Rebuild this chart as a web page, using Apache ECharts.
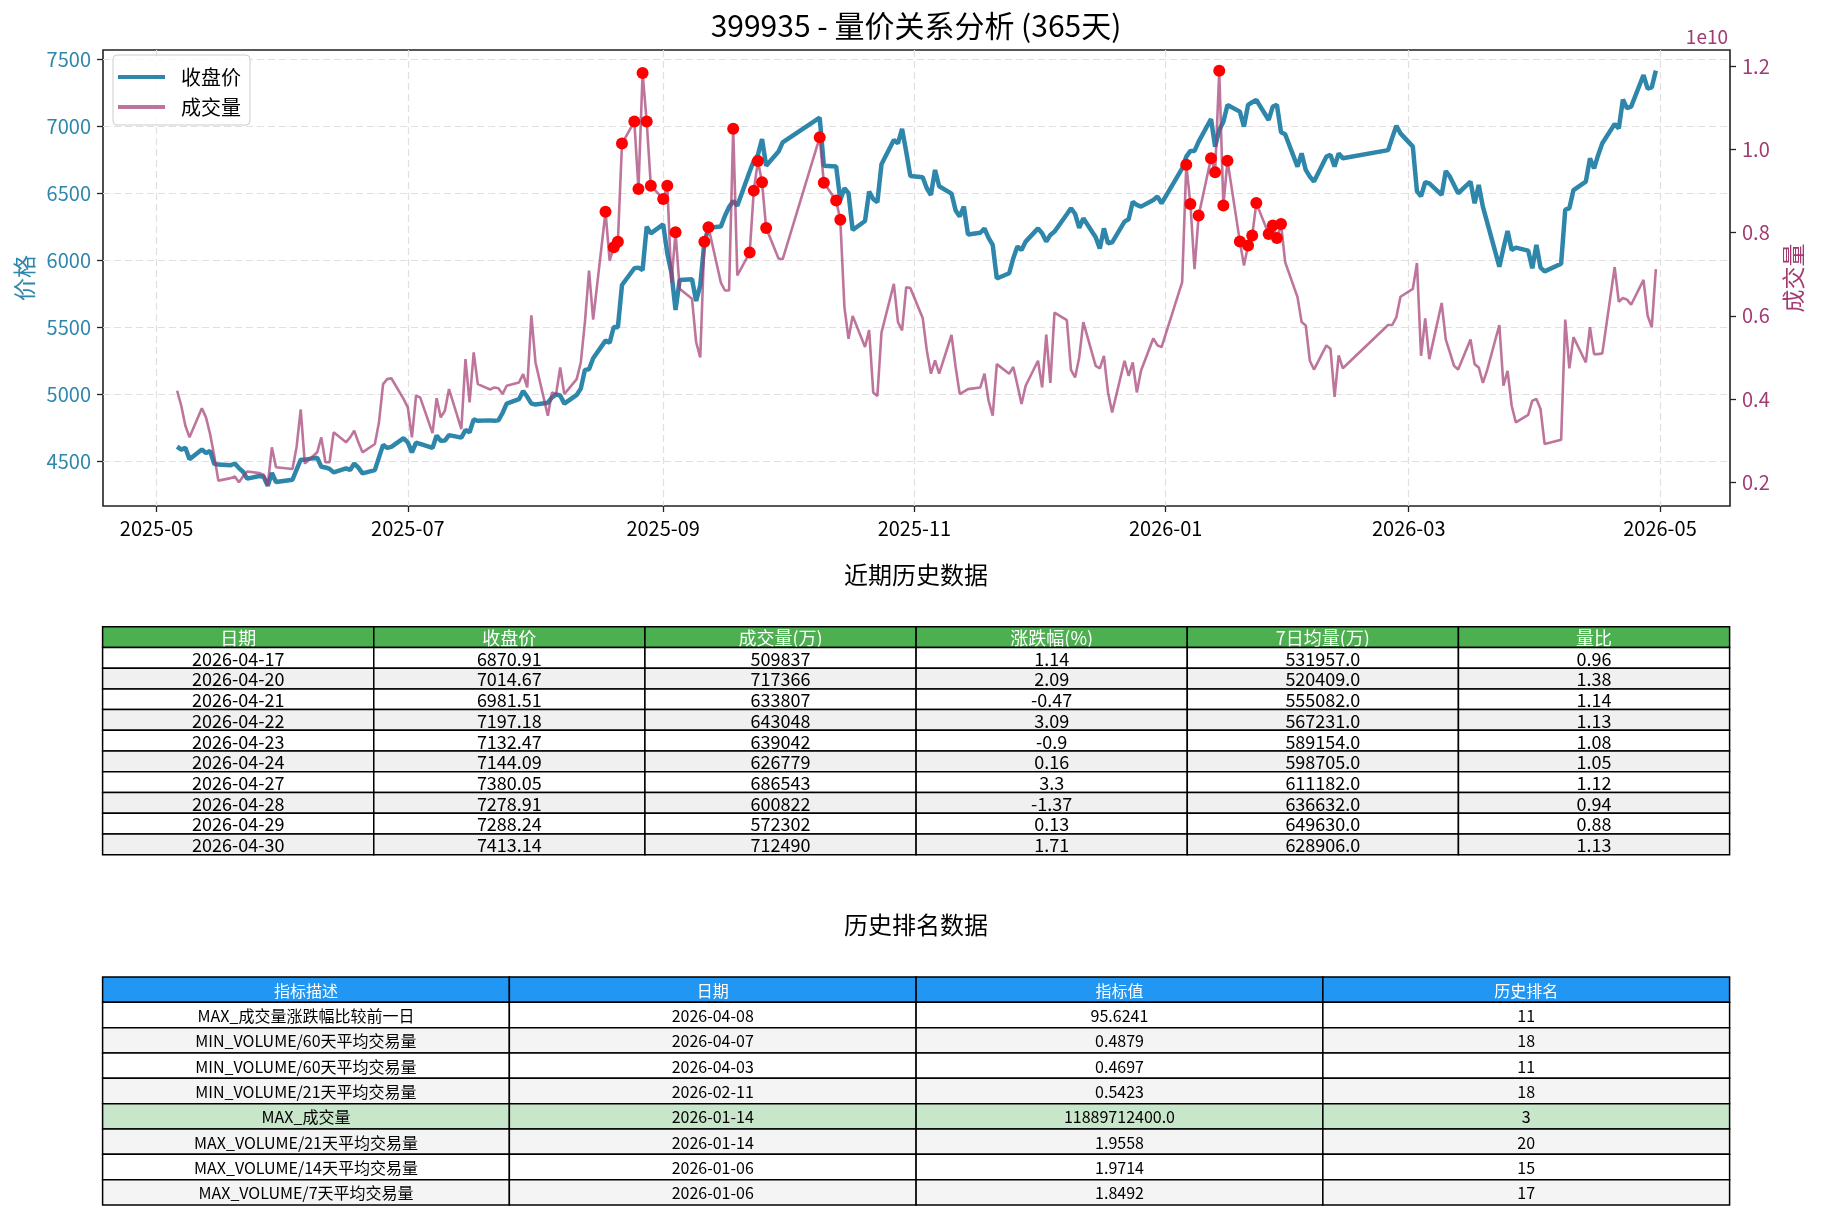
<!DOCTYPE html>
<html>
<head>
<meta charset="utf-8">
<title>399935 量价关系分析</title>
<script src="https://cdn.jsdelivr.net/npm/echarts@6/dist/echarts.min.js"></script>
<style>
  html, body { margin: 0; padding: 0; background: #fff; }
  #chart { width: 1822px; height: 1220px; }
</style>
</head>
<body>
<div id="chart"></div>
<script>
// ---- 行情数据 (交易日) ----
const tradeDates = [
  '2025-05-06','2025-05-07','2025-05-08','2025-05-09','2025-05-12','2025-05-13','2025-05-14','2025-05-15','2025-05-16','2025-05-19','2025-05-20','2025-05-21','2025-05-22','2025-05-23','2025-05-26','2025-05-27','2025-05-28','2025-05-29','2025-05-30',
  '2025-06-03','2025-06-04','2025-06-05','2025-06-06','2025-06-09','2025-06-10','2025-06-11','2025-06-12','2025-06-13','2025-06-16','2025-06-17','2025-06-18','2025-06-19','2025-06-20','2025-06-23','2025-06-24','2025-06-25','2025-06-26','2025-06-27','2025-06-30',
  '2025-07-01','2025-07-02','2025-07-03','2025-07-04','2025-07-07','2025-07-08','2025-07-09','2025-07-10','2025-07-11','2025-07-14','2025-07-15','2025-07-16','2025-07-17','2025-07-18','2025-07-21','2025-07-22','2025-07-23','2025-07-24','2025-07-25','2025-07-28','2025-07-29','2025-07-30','2025-07-31',
  '2025-08-01','2025-08-04','2025-08-05','2025-08-06','2025-08-07','2025-08-08','2025-08-11','2025-08-12','2025-08-13','2025-08-14','2025-08-15','2025-08-18','2025-08-19','2025-08-20','2025-08-21','2025-08-22','2025-08-25','2025-08-26','2025-08-27','2025-08-28','2025-08-29',
  '2025-09-01','2025-09-02','2025-09-03','2025-09-04','2025-09-05','2025-09-08','2025-09-09','2025-09-10','2025-09-11','2025-09-12','2025-09-15','2025-09-16','2025-09-17','2025-09-18','2025-09-19','2025-09-22','2025-09-23','2025-09-24','2025-09-25','2025-09-26','2025-09-29','2025-09-30',
  '2025-10-09','2025-10-10','2025-10-13','2025-10-14','2025-10-15','2025-10-16','2025-10-17','2025-10-20','2025-10-21','2025-10-22','2025-10-23','2025-10-24','2025-10-27','2025-10-28','2025-10-29','2025-10-30','2025-10-31',
  '2025-11-03','2025-11-04','2025-11-05','2025-11-06','2025-11-07','2025-11-10','2025-11-11','2025-11-12','2025-11-13','2025-11-14','2025-11-17','2025-11-18','2025-11-19','2025-11-20','2025-11-21','2025-11-24','2025-11-25','2025-11-26','2025-11-27','2025-11-28',
  '2025-12-01','2025-12-02','2025-12-03','2025-12-04','2025-12-05','2025-12-08','2025-12-09','2025-12-10','2025-12-11','2025-12-12','2025-12-15','2025-12-16','2025-12-17','2025-12-18','2025-12-19','2025-12-22','2025-12-23','2025-12-24','2025-12-25','2025-12-26','2025-12-29','2025-12-30','2025-12-31',
  '2026-01-05','2026-01-06','2026-01-07','2026-01-08','2026-01-09','2026-01-12','2026-01-13','2026-01-14','2026-01-15','2026-01-16','2026-01-19','2026-01-20','2026-01-21','2026-01-22','2026-01-23','2026-01-26','2026-01-27','2026-01-28','2026-01-29','2026-01-30',
  '2026-02-02','2026-02-03','2026-02-04','2026-02-05','2026-02-06','2026-02-09','2026-02-10','2026-02-11','2026-02-12','2026-02-13','2026-02-24','2026-02-25','2026-02-26','2026-02-27',
  '2026-03-02','2026-03-03','2026-03-04','2026-03-05','2026-03-06','2026-03-09','2026-03-10','2026-03-11','2026-03-12','2026-03-13','2026-03-16','2026-03-17','2026-03-18','2026-03-19','2026-03-20','2026-03-23','2026-03-24','2026-03-25','2026-03-26','2026-03-27','2026-03-30','2026-03-31',
  '2026-04-01','2026-04-02','2026-04-03','2026-04-07','2026-04-08','2026-04-09','2026-04-10','2026-04-13','2026-04-14','2026-04-15','2026-04-16','2026-04-17','2026-04-20','2026-04-21','2026-04-22','2026-04-23','2026-04-24','2026-04-27','2026-04-28','2026-04-29','2026-04-30'
]

const closePrice = [
  4607, 4585, 4599, 4513, 4585, 4559, 4575, 4479, 4473, 4468, 4481, 4447, 4420, 4368, 4388, 4382, 4315, 4410, 4343,
  4360, 4435, 4510, 4510, 4525, 4457, 4452, 4441, 4415, 4445, 4433, 4481, 4450, 4408, 4432, 4527, 4620, 4598, 4605, 4670,
  4638, 4565, 4636, 4628, 4597, 4690, 4650, 4652, 4693, 4674, 4731, 4714, 4810, 4800, 4803, 4800, 4803, 4858, 4928, 4961, 5022, 4979, 4928,
  4922, 4935, 4974, 4996, 4989, 4928, 4993, 5040, 5180, 5184, 5266, 5398, 5383, 5500, 5498, 5813, 5938, 5943, 5925, 6249, 6199,
  6266, 6050, 5905, 5627, 5851, 5856, 5694, 5810, 6132, 6240, 6249, 6330, 6395, 6440, 6405, 6660, 6740, 6784, 6903, 6704, 6809, 6878,
  7062, 6704, 6697, 6448, 6535, 6498, 6224, 6291, 6510, 6455, 6430, 6714, 6896, 6871, 6978, 6809, 6627,
  6617, 6535, 6485, 6672, 6550, 6495, 6370, 6325, 6398, 6190, 6203, 6235, 6165, 6112, 5862, 5901, 6013, 6100, 6075, 6137,
  6236, 6199, 6137, 6187, 6212, 6341, 6386, 6345, 6240, 6311, 6170, 6085, 6236, 6124, 6132, 6286, 6304, 6435, 6411, 6398, 6448, 6473, 6423,
  6684, 6771, 6814, 6814, 6883, 7052, 6846, 6970, 7032, 7157, 7107, 6995, 7157, 7177, 7194, 7045, 7144, 7157, 6953, 6938,
  6697, 6796, 6672, 6622, 6585, 6771, 6784, 6697, 6796, 6759, 6820, 6913, 7002, 6945,
  6846, 6512, 6476, 6580, 6572, 6485, 6664, 6622, 6560, 6498, 6585, 6423, 6560, 6398, 6286, 5950, 6087, 6217, 6075, 6092, 6070, 5938,
  6112, 5943, 5915, 5972, 6376, 6386, 6522, 6585, 6759, 6684, 6784, 6870.91, 7014.67, 6981.51, 7197.18, 7132.47, 7144.09, 7380.05, 7278.91, 7288.24, 7413.14
]

// 成交量, 单位 1e10
const volume = [
  0.420, 0.384, 0.336, 0.308, 0.378, 0.356, 0.316, 0.264, 0.204, 0.210, 0.214, 0.200, 0.214, 0.226, 0.222, 0.218, 0.193, 0.284, 0.236,
  0.232, 0.285, 0.375, 0.245, 0.272, 0.308, 0.248, 0.248, 0.320, 0.296, 0.308, 0.324, 0.296, 0.272, 0.292, 0.344, 0.436, 0.448, 0.450, 0.400,
  0.380, 0.308, 0.408, 0.404, 0.318, 0.402, 0.356, 0.372, 0.424, 0.328, 0.496, 0.392, 0.512, 0.436, 0.423, 0.428, 0.426, 0.412, 0.432, 0.440, 0.460, 0.428, 0.601,
  0.488, 0.360, 0.416, 0.412, 0.476, 0.412, 0.448, 0.488, 0.585, 0.709, 0.591, 0.850, 0.733, 0.765, 0.778, 1.014, 1.067, 0.905, 1.184, 1.067, 0.913,
  0.881, 0.913, 0.680, 0.801, 0.665, 0.641, 0.537, 0.500, 0.778, 0.813, 0.680, 0.661, 0.661, 1.050, 0.697, 0.752, 0.901, 0.972, 0.921, 0.811, 0.738, 0.736,
  1.029, 0.920, 0.877, 0.831, 0.621, 0.545, 0.600, 0.525, 0.566, 0.416, 0.407, 0.560, 0.677, 0.585, 0.565, 0.669, 0.667,
  0.595, 0.517, 0.461, 0.493, 0.461, 0.554, 0.477, 0.412, 0.418, 0.424, 0.428, 0.461, 0.396, 0.360, 0.484, 0.461, 0.477, 0.434, 0.388, 0.432,
  0.492, 0.428, 0.555, 0.439, 0.608, 0.590, 0.470, 0.452, 0.500, 0.585, 0.480, 0.474, 0.504, 0.416, 0.368, 0.492, 0.456, 0.488, 0.416, 0.468, 0.546, 0.529, 0.525,
  0.681, 0.963, 0.869, 0.712, 0.841, 0.979, 0.945, 1.18897, 0.865, 0.973, 0.779, 0.721, 0.769, 0.793, 0.871, 0.797, 0.817, 0.787, 0.821, 0.729,
  0.645, 0.585, 0.577, 0.492, 0.471, 0.529, 0.521, 0.405, 0.505, 0.474, 0.578, 0.578, 0.597, 0.646,
  0.665, 0.727, 0.504, 0.594, 0.496, 0.631, 0.543, 0.512, 0.480, 0.471, 0.543, 0.484, 0.476, 0.439, 0.468, 0.578, 0.432, 0.468, 0.384, 0.344, 0.362, 0.396,
  0.400, 0.376, 0.292, 0.302, 0.591, 0.474, 0.549, 0.488, 0.573, 0.508, 0.508, 0.509837, 0.717366, 0.633807, 0.643048, 0.639042, 0.626779, 0.686543, 0.600822, 0.572302, 0.712490
]

// 放量日 (红点)
const spikeDates = [
  '2025-08-18','2025-08-20','2025-08-21','2025-08-22','2025-08-25','2025-08-26','2025-08-27','2025-08-28','2025-08-29',
  '2025-09-01','2025-09-02','2025-09-04','2025-09-11','2025-09-12','2025-09-18','2025-09-22','2025-09-23','2025-09-24','2025-09-25','2025-09-26',
  '2025-10-09','2025-10-10','2025-10-13','2025-10-14',
  '2026-01-06','2026-01-07','2026-01-09','2026-01-12','2026-01-13','2026-01-14','2026-01-15','2026-01-16',
  '2026-01-19','2026-01-21','2026-01-22','2026-01-23','2026-01-26','2026-01-27','2026-01-28','2026-01-29'
]

const monthTicks = ['2025-05-01','2025-07-01','2025-09-01','2025-11-01','2026-01-01','2026-03-01','2026-05-01']
const priceTicks = [4500, 5000, 5500, 6000, 6500, 7000, 7500]
const volumeTicks = [0.2, 0.4, 0.6, 0.8, 1.0, 1.2]

// ---- 近期历史数据 ----
const recentHeaders = ['日期', '收盘价', '成交量(万)', '涨跌幅(%)', '7日均量(万)', '量比']
const recentDates = ['2026-04-17','2026-04-20','2026-04-21','2026-04-22','2026-04-23','2026-04-24','2026-04-27','2026-04-28','2026-04-29','2026-04-30']
const recentClose = [6870.91, 7014.67, 6981.51, 7197.18, 7132.47, 7144.09, 7380.05, 7278.91, 7288.24, 7413.14]
const recentVolume = [509837, 717366, 633807, 643048, 639042, 626779, 686543, 600822, 572302, 712490]
const recentChange = [1.14, 2.09, -0.47, 3.09, -0.9, 0.16, 3.3, -1.37, 0.13, 1.71]
const recentAvg7 = [531957.0, 520409.0, 555082.0, 567231.0, 589154.0, 598705.0, 611182.0, 636632.0, 649630.0, 628906.0]
const recentRatio = [0.96, 1.38, 1.14, 1.13, 1.08, 1.05, 1.12, 0.94, 0.88, 1.13]

// ---- 历史排名数据 ----
const rankHeaders = ['指标描述', '日期', '指标值', '历史排名']
const rankDesc = ['MAX_成交量涨跌幅比较前一日', 'MIN_VOLUME/60天平均交易量', 'MIN_VOLUME/60天平均交易量', 'MIN_VOLUME/21天平均交易量',
  'MAX_成交量', 'MAX_VOLUME/21天平均交易量', 'MAX_VOLUME/14天平均交易量', 'MAX_VOLUME/7天平均交易量']
const rankDates = ['2026-04-08', '2026-04-07', '2026-04-03', '2026-02-11', '2026-01-14', '2026-01-14', '2026-01-06', '2026-01-06']
const rankValues = [95.6241, 0.4879, 0.4697, 0.5423, 11889712400, 1.9558, 1.9714, 1.8492]
const rankOrder = [11, 18, 11, 18, 3, 20, 15, 17]
const highlightRow = 4

const FONT = '"Noto Sans CJK SC", "Noto Sans", sans-serif'
const BLUE = '#2E86AB'
const PINK = '#A23B72'

const toTs = s => {
    const [y, m, d] = s.split('-').map(Number)
    return new Date(y, m - 1, d).getTime()
}
const pyFloat = v => (Number.isInteger(v) ? v.toFixed(1) : String(v))

const priceData = tradeDates.map((d, i) => [toTs(d), closePrice[i]])
const volumeData = tradeDates.map((d, i) => [toTs(d), volume[i]])
const spikeData = spikeDates.map(d => [toTs(d), volume[tradeDates.indexOf(d)]])

// 表格单元
const table1Cells = []
recentHeaders.forEach((h, c) => table1Cells.push({ col: c, row: 0, text: h, fill: '#4CAF50', color: '#fff' }))
recentDates.forEach((d, i) => {
    const vals = [d, String(recentClose[i]), String(recentVolume[i]), String(recentChange[i]), pyFloat(recentAvg7[i]), String(recentRatio[i])]
    vals.forEach((t, c) => table1Cells.push({ col: c, row: i + 1, text: t, fill: i % 2 ? '#f0f0f0' : '#ffffff', color: '#000' }))
})

const table2Cells = []
rankHeaders.forEach((h, c) => table2Cells.push({ col: c, row: 0, text: h, fill: '#2196F3', color: '#fff' }))
rankDesc.forEach((d, i) => {
    const vals = [d, rankDates[i], pyFloat(rankValues[i]), String(rankOrder[i])]
    const fill = i === highlightRow ? '#C8E6C9' : (i % 2 ? '#f4f4f4' : '#ffffff')
    vals.forEach((t, c) => table2Cells.push({ col: c, row: i + 1, text: t, fill: fill, color: '#000' }))
})

const cellRenderer = (cells, fontSize) => (params, api) => {
    const cell = cells[params.dataIndex]
    const p = api.coord([api.value(0), api.value(1)])
    const s = api.size([1, 1])
    return {
        type: 'group',
        children: [
            {
                type: 'rect',
                shape: { x: p[0] - s[0] / 2, y: p[1] - s[1] / 2, width: s[0], height: s[1] },
                style: { fill: cell.fill, stroke: '#000', lineWidth: 1.5 }
            },
            {
                type: 'text',
                style: {
                    text: cell.text, x: p[0], y: p[1] + 1, align: 'center', verticalAlign: 'middle',
                    fill: cell.color, fontSize: fontSize, fontFamily: FONT
                }
            }
        ]
    }
}

const dashed = { type: [7, 4], color: '#e0e0e0', width: 1.2 }
const tickLine = { color: '#222', width: 1.3 }
const monthLabel = v => {
    const d = new Date(v)
    return d.getFullYear() + '-' + String(d.getMonth() + 1).padStart(2, '0')
}

const chart = echarts.init(document.getElementById('chart'))
const option = {
    animation: false,
    backgroundColor: '#fff',
    textStyle: { fontFamily: FONT },
    title: [
        { text: '399935 - 量价关系分析 (365天)', left: 916, top: 11, textAlign: 'center', padding: 0,
          textStyle: { fontSize: 30, fontWeight: 'normal', color: '#000', fontFamily: FONT } },
        { text: '1e10', right: 94, top: 27, padding: 0,
          textStyle: { fontSize: 19, fontWeight: 'normal', color: PINK, fontFamily: FONT } },
        { text: '近期历史数据', left: 916, top: 563, textAlign: 'center', padding: 0,
          textStyle: { fontSize: 24, fontWeight: 'normal', color: '#000', fontFamily: FONT } },
        { text: '历史排名数据', left: 916, top: 913, textAlign: 'center', padding: 0,
          textStyle: { fontSize: 24, fontWeight: 'normal', color: '#000', fontFamily: FONT } }
    ],
    legend: {
        left: 113, top: 55, orient: 'vertical',
        padding: [12, 9, 8, 5], itemGap: 10,
        itemWidth: 47, itemHeight: 4, icon: 'rect',
        backgroundColor: 'rgba(255,255,255,0.8)', borderColor: '#cccccc', borderWidth: 1, borderRadius: 4,
        textStyle: { fontSize: 20, color: '#000', fontFamily: FONT, padding: [0, 0, 0, 11] },
        data: [
            { name: '收盘价', itemStyle: { color: BLUE, borderWidth: 0 } },
            { name: '成交量', itemStyle: { color: PINK, opacity: 0.7, borderWidth: 0 } }
        ]
    },
    grid: [
        { left: 103, top: 50, width: 1627, height: 456, show: true, borderColor: '#222', borderWidth: 1.6,
          containLabel: false, outerBoundsMode: 'none' },
        { left: 102.6, top: 626.7, width: 1627, height: 228, containLabel: false, outerBoundsMode: 'none' },
        { left: 102.6, top: 977, width: 1627, height: 228, containLabel: false, outerBoundsMode: 'none' }
    ],
    xAxis: [
        {
            type: 'value', gridIndex: 0, scale: true,
            min: toTs('2025-04-18'), max: toTs('2026-05-18'),
            axisLine: { show: false },
            axisTick: { show: true, length: 6, lineStyle: tickLine, customValues: monthTicks.map(toTs) },
            axisLabel: {
                customValues: monthTicks.map(toTs), hideOverlap: false, margin: 12,
                fontSize: 20, color: '#000', fontFamily: FONT, formatter: monthLabel
            },
            splitLine: { show: true, lineStyle: dashed },
            minorTick: { show: false }
        },
        { type: 'category', gridIndex: 1, data: recentHeaders.map((h, i) => String(i)), show: false },
        { type: 'category', gridIndex: 2, data: rankHeaders.map((h, i) => String(i)), show: false }
    ],
    yAxis: [
        {
            type: 'value', gridIndex: 0, position: 'left',
            min: 4164, max: 7567,
            name: '价格', nameLocation: 'middle', nameRotate: 90, nameGap: 56,
            nameTextStyle: { fontSize: 23, color: BLUE, fontFamily: FONT },
            axisLine: { show: false },
            axisTick: { show: true, length: 6, lineStyle: tickLine, customValues: priceTicks },
            axisLabel: { customValues: priceTicks, fontSize: 20, color: BLUE, margin: 12, fontFamily: FONT,
                         formatter: v => String(v) },
            splitLine: { show: true, lineStyle: dashed }
        },
        {
            type: 'value', gridIndex: 0, position: 'right',
            min: 0.143, max: 1.239,
            name: '成交量', nameLocation: 'middle', nameRotate: 90, nameGap: 52,
            nameTextStyle: { fontSize: 23, color: PINK, fontFamily: FONT },
            axisLine: { show: false },
            axisTick: { show: true, length: 6, lineStyle: tickLine, customValues: volumeTicks },
            axisLabel: { customValues: volumeTicks, fontSize: 20, color: PINK, margin: 12, fontFamily: FONT,
                         formatter: v => v.toFixed(1) },
            splitLine: { show: false }
        },
        { type: 'category', gridIndex: 1, inverse: true, data: ['h'].concat(recentDates), show: false },
        { type: 'category', gridIndex: 2, inverse: true, data: ['h'].concat(rankDates.map((d, i) => String(i))), show: false }
    ],
    series: [
        {
            name: '收盘价', type: 'line', xAxisIndex: 0, yAxisIndex: 0,
            data: priceData, symbol: 'none', z: 2,
            lineStyle: { color: BLUE, width: 4.5 }, itemStyle: { color: BLUE }
        },
        {
            name: '成交量', type: 'line', xAxisIndex: 0, yAxisIndex: 1,
            data: volumeData, symbol: 'none', z: 3,
            lineStyle: { color: PINK, width: 2.6, opacity: 0.7 }, itemStyle: { color: PINK, opacity: 0.7 }
        },
        {
            name: '放量', type: 'scatter', xAxisIndex: 0, yAxisIndex: 1,
            data: spikeData, symbolSize: 12, z: 4,
            itemStyle: { color: '#ff0000', opacity: 1 }
        },
        {
            type: 'custom', xAxisIndex: 1, yAxisIndex: 2, silent: true,
            data: table1Cells.map(c => [c.col, c.row]),
            renderItem: cellRenderer(table1Cells, 18)
        },
        {
            type: 'custom', xAxisIndex: 2, yAxisIndex: 3, silent: true,
            data: table2Cells.map(c => [c.col, c.row]),
            renderItem: cellRenderer(table2Cells, 16)
        }
    ]
}
chart.setOption(option)
</script>
</body>
</html>
